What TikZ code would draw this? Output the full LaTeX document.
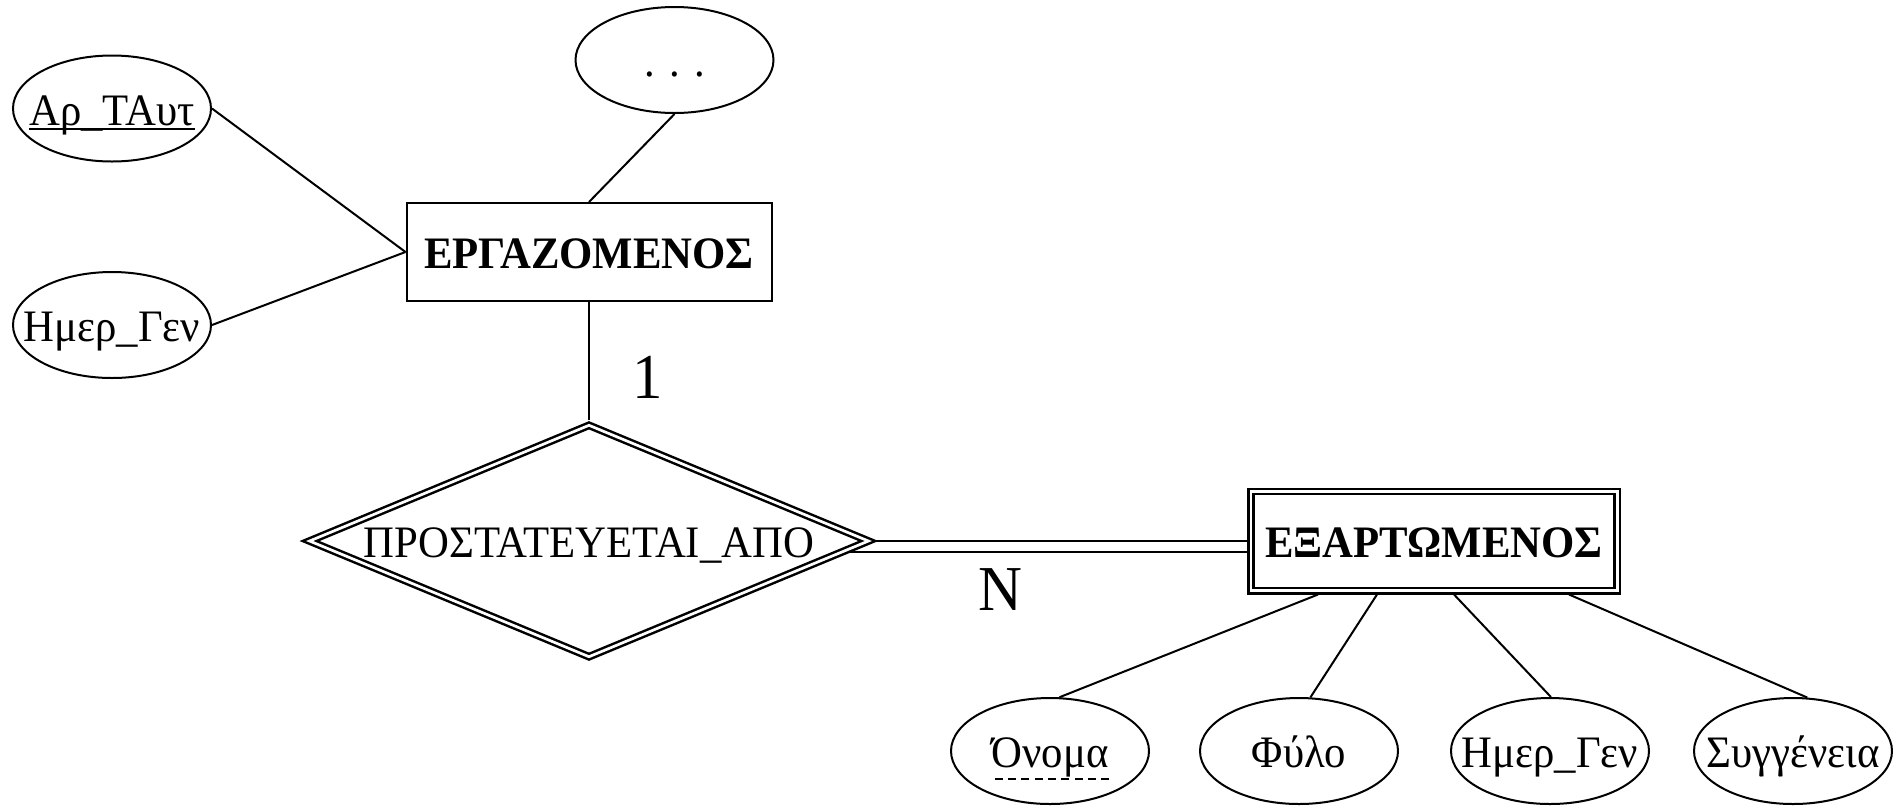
\documentclass[tikz,border=0pt]{standalone}
\usepackage{fontspec}
\setmainfont{Liberation Serif}[FakeStretch=0.95]
\usetikzlibrary{shapes.geometric}

% label size used inside shapes
\newcommand{\lblsize}{\fontsize{45}{54}\selectfont}
% solid underline for a key attribute
\newcommand{\keyul}[1]{\setbox0\hbox{#1}\rlap{\rule[-4.5pt]{\wd0}{2pt}}\box0}
% dashed underline for a partial key
\newcommand{\partialul}[1]{\setbox0\hbox{#1}\rlap{\hbox to \dimexpr\wd0+4pt\relax{\xleaders\hbox to 12.8pt{\hss\rule[-12pt]{8pt}{2pt}\hss}\hfill}}\box0}

\begin{document}
\begin{tikzpicture}[x=1pt, y=-1pt, line width=2pt,
  attr/.style={ellipse, draw, minimum width=198pt, minimum height=106pt,
    inner sep=0pt, text height=33pt, text depth=0pt, font=\lblsize},
  entity/.style={rectangle, draw, inner sep=0pt, text height=33pt,
    text depth=0pt, font=\lblsize\bfseries},
  weakentity/.style={entity, line width=2.5pt, double, double distance=2.7pt,
    outer sep=3.85pt},
  idrel/.style={diamond, draw, line width=2.5pt, double, double distance=2.7pt,
    aspect=2.4, minimum width=562pt, minimum height=234.6pt, inner sep=0pt,
    outer sep=3.85pt, text height=33pt, text depth=0pt, font=\lblsize},
  card/.style={inner sep=0pt, font=\fontsize{64}{70}\selectfont}]

\useasboundingbox (0,0) rectangle (1893,807);

% owner entity and its attributes
\node[entity, minimum width=365pt, minimum height=98pt] (emp) at (589,252) {\makebox[0pt]{ΕΡΓΑΖΟΜΕΝΟΣ}};
\node[attr] (ssn) at (112,108.5) {\makebox[0pt]{\keyul{Αρ\_ΤΑυτ}}};
\node[attr] (bdate) at (112,325) {\makebox[0pt]{Ημερ\_Γεν}};
\node[attr] (more) at (674.5,60) {\makebox[0pt]{. . .}};

% identifying relationship
\node[idrel] (rel) at (589,541) {\makebox[0pt]{ΠΡΟΣΤΑΤΕΥΕΤΑΙ\_ΑΠΟ}};

% weak entity and its attributes
\node[weakentity, minimum width=366.3pt, minimum height=99.3pt] (dep) at (1434,541) {\makebox[0pt]{ΕΞΑΡΤΩΜΕΝΟΣ}};
\node[attr] (dname) at (1050,751) {\makebox[0pt]{\partialul{Όνομα}}};
\node[attr] (sex) at (1299,751) {\makebox[0pt]{Φύλο}};
\node[attr] (dbdate) at (1550,751) {\makebox[0pt]{Ημερ\_Γεν}};
\node[attr] (relship) at (1793,751) {\makebox[0pt]{Συγγένεια}};

% cardinalities
\node[card] (one) at (647.5,377) {1};
\node[card] (many) at (1000,589.5) {N};

% connectors
\draw (ssn.east) -- (emp.west);
\draw (bdate.east) -- (emp.west);
\draw (more.south) -- (emp.north);
\draw (emp.south) -- (rel.north);
\draw (rel.east) -- (dep.west);
\draw ([xshift=-26pt,yshift=-11pt]rel.east) -- ([yshift=-11pt]dep.west);
\draw ([xshift=-116pt]dep.south) -- (dname.80);
\draw ([xshift=-57pt]dep.south) -- (sex.78);
\draw ([xshift=20pt]dep.south) -- (dbdate.89);
\draw ([xshift=135pt]dep.south) -- (relship.75);
\end{tikzpicture}
\end{document}
